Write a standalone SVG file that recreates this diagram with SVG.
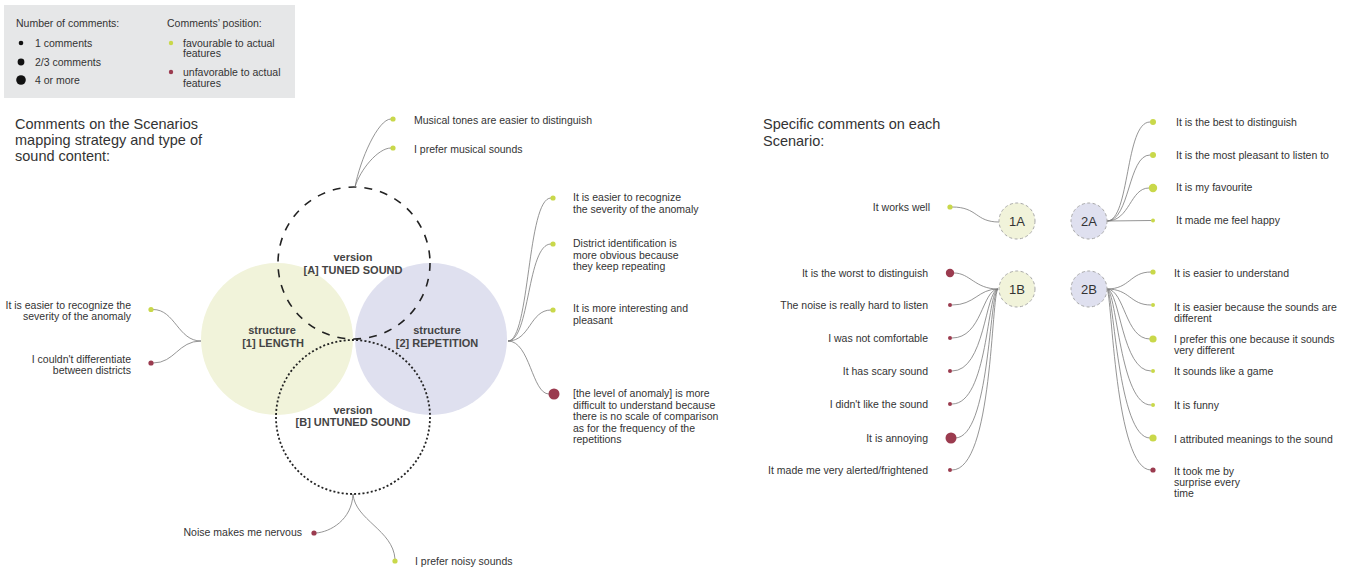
<svg xmlns="http://www.w3.org/2000/svg" width="1349" height="572" viewBox="0 0 1349 572">
<style>
.t{font-family:"Liberation Sans",Arial,sans-serif;font-size:10.5px;fill:#333}
.r{text-anchor:end}
.h{font-family:"Liberation Sans",Arial,sans-serif;font-size:14.5px;fill:#333}
.v{font-family:"Liberation Sans",Arial,sans-serif;font-size:11px;font-weight:bold;fill:#444;text-anchor:middle}
.n{font-family:"Liberation Sans",Arial,sans-serif;font-size:13px;fill:#333;text-anchor:middle}
.g{fill:#c9d84a}
.d{fill:#9b3b4f}
.c path{fill:none;stroke:#7a7a7a;stroke-width:0.8}
.sc{stroke:#a8a8a8;stroke-width:1;stroke-dasharray:3 2.5}
</style>
<rect width="1349" height="572" fill="#fff"/>
<g id="legend">
<rect x="4" y="5" width="291" height="93" fill="#e6e7e8"/>
<text class="t" x="16" y="27">Number of comments:</text>
<circle cx="21" cy="43" r="2.3" fill="#111"/><text class="t" x="35" y="47">1 comments</text>
<circle cx="21" cy="62" r="3.4" fill="#111"/><text class="t" x="35" y="65.5">2/3 comments</text>
<circle cx="21" cy="80" r="4.8" fill="#111"/><text class="t" x="35" y="83.5">4 or more</text>
<text class="t" x="167" y="27">Comments’ position:</text>
<circle class="g" cx="171" cy="43" r="2.2"/><text class="t" x="183" y="46.5">favourable to actual</text><text class="t" x="183" y="57">features</text>
<circle class="d" cx="171" cy="72" r="2.2"/><text class="t" x="183" y="75.5">unfavorable to actual</text><text class="t" x="183" y="86.5">features</text>
</g>
<g id="title-left"><text class="h" x="15" y="129">Comments on the Scenarios</text><text class="h" x="15" y="145">mapping strategy and type of</text><text class="h" x="15" y="161">sound content:</text></g>
<g id="title-right"><text class="h" x="763" y="129">Specific comments on each</text><text class="h" x="763" y="146">Scenario:</text></g>
<g id="structure-1"><circle cx="277" cy="339" r="76" fill="#f1f3da"/><text class="v" x="272" y="334">structure</text><text class="v" x="273" y="347">[1] LENGTH</text></g>
<g id="structure-2"><circle cx="431" cy="339" r="76" fill="#dfe0ef"/><text class="v" x="437" y="334">structure</text><text class="v" x="437" y="347">[2] REPETITION</text></g>
<g id="version-A"><circle cx="354" cy="263" r="76" fill="none" stroke="#222" stroke-width="1.6" stroke-dasharray="8 8"/><text class="v" x="353" y="261">version</text><text class="v" x="353" y="274">[A] TUNED SOUND</text></g>
<g id="version-B"><circle cx="353" cy="417" r="77" fill="none" stroke="#222" stroke-width="1.8" stroke-dasharray="2 2.2"/><text class="v" x="353" y="414">version</text><text class="v" x="353" y="426">[B] UNTUNED SOUND</text></g>
<g id="connectors" class="c">
<path d="M355,187 C360,160 378,119 391,119"/>
<path d="M355,187 C360,170 378,148 391,148"/>
<path d="M508,341 C530,341 527,198 551,198"/>
<path d="M508,341 C530,341 527,244 551,244"/>
<path d="M508,341 C530,341 530,310 551,310"/>
<path d="M508,341 C530,341 532,394 549,394"/>
<path d="M201,341 C178,341 175,309.5 153,309.5"/>
<path d="M201,341 C178,341 175,363 153,363"/>
<path d="M353,494 C352,520 330,532 316,533"/>
<path d="M353,494 C355,520 393,530 395,559"/>
<path d="M952,207 C978,207 975,222 999,222"/>
<path d="M1107,221 C1130,221 1125,122 1150,122"/>
<path d="M1107,221 C1130,221 1128,155 1150,155"/>
<path d="M1107,221 C1130,221 1130,188 1149,188"/>
<path d="M1107,221 L1151,220.5"/>
<path d="M998,289 C975,289 970,273 954,273"/>
<path d="M998,289 C978,289 975,305 952,305"/>
<path d="M998,289 C982,290 982,338 952,338"/>
<path d="M998,289 C985,291 985,371 952,371"/>
<path d="M998,289 C987,292 988,404 952,404"/>
<path d="M998,289 C989,293 990,438 955,438"/>
<path d="M998,289 C991,294 993,470 952,470"/>
<path d="M1107,289 C1130,289 1130,272 1151,272"/>
<path d="M1107,289 C1130,289 1130,305 1151,305"/>
<path d="M1107,289 C1125,290 1125,339 1150,339"/>
<path d="M1107,289 C1120,291 1122,371 1151,371"/>
<path d="M1107,289 C1117,292 1120,405 1151,405"/>
<path d="M1107,289 C1114,293 1118,438 1150,438"/>
<path d="M1107,289 C1112,294 1115,470 1151,470"/>
</g>
<g id="c-musical-tones"><circle class="g" cx="393" cy="119" r="2.6"/><text class="t" x="414" y="124">Musical tones are easier to distinguish</text></g>
<g id="c-prefer-musical"><circle class="g" cx="393" cy="148" r="2.6"/><text class="t" x="414" y="153">I prefer musical sounds</text></g>
<g id="c-severity-rep"><circle class="g" cx="553" cy="198" r="2.6"/><text class="t" x="573" y="201">It is easier to recognize</text><text class="t" x="573" y="212.5">the severity of the anomaly</text></g>
<g id="c-district"><circle class="g" cx="553" cy="244" r="2.6"/><text class="t" x="573" y="247">District identification is</text><text class="t" x="573" y="258.5">more obvious because</text><text class="t" x="573" y="270">they keep repeating</text></g>
<g id="c-interesting"><circle class="g" cx="553" cy="310" r="2.6"/><text class="t" x="573" y="312">It is more interesting and</text><text class="t" x="573" y="323.5">pleasant</text></g>
<g id="c-level"><circle class="d" cx="554" cy="394" r="5.5"/><text class="t" x="573" y="397">[the level of anomaly] is more</text><text class="t" x="573" y="408.5">difficult to understand because</text><text class="t" x="573" y="420">there is no scale of comparison</text><text class="t" x="573" y="431.5">as for the frequency of the</text><text class="t" x="573" y="443">repetitions</text></g>
<g id="c-severity-len"><circle class="g" cx="151" cy="309.5" r="2.6"/><text class="t r" x="131" y="309">It is easier to recognize the</text><text class="t r" x="131" y="320">severity of the anomaly</text></g>
<g id="c-districts"><circle class="d" cx="151" cy="363" r="2.6"/><text class="t r" x="131" y="362.5">I couldn't differentiate</text><text class="t r" x="131" y="374">between districts</text></g>
<g id="c-noise"><circle class="d" cx="314" cy="533" r="2.6"/><text class="t r" x="302" y="536">Noise makes me nervous</text></g>
<g id="c-noisy"><circle class="g" cx="395" cy="561" r="2.6"/><text class="t" x="415" y="565">I prefer noisy sounds</text></g>
<g id="node-1A"><circle class="sc" cx="1017" cy="221" r="18" fill="#f1f3da"/><text class="n" x="1017" y="226">1A</text></g>
<g id="node-2A"><circle class="sc" cx="1089" cy="221" r="18" fill="#dfe0ef"/><text class="n" x="1089" y="226">2A</text></g>
<g id="node-1B"><circle class="sc" cx="1017" cy="289" r="18" fill="#f1f3da"/><text class="n" x="1017" y="294">1B</text></g>
<g id="node-2B"><circle class="sc" cx="1089" cy="289" r="18" fill="#dfe0ef"/><text class="n" x="1089" y="294">2B</text></g>
<g id="c-works-well"><circle class="g" cx="950" cy="207" r="2.6"/><text class="t r" x="930" y="211">It works well</text></g>
<g id="c-best"><circle class="g" cx="1153" cy="122" r="3"/><text class="t" x="1176" y="126">It is the best to distinguish</text></g>
<g id="c-pleasant"><circle class="g" cx="1153" cy="155" r="3"/><text class="t" x="1176" y="158.5">It is the most pleasant to listen to</text></g>
<g id="c-favourite"><circle class="g" cx="1153" cy="188" r="4.2"/><text class="t" x="1176" y="191">It is my favourite</text></g>
<g id="c-happy"><circle class="g" cx="1153" cy="220.5" r="2"/><text class="t" x="1176" y="224">It made me feel happy</text></g>
<g id="c-worst"><circle class="d" cx="950" cy="273" r="4.2"/><text class="t r" x="928" y="276.5">It is the worst to distinguish</text></g>
<g id="c-hard"><circle class="d" cx="950" cy="305" r="2"/><text class="t r" x="928" y="309">The noise is really hard to listen</text></g>
<g id="c-comfortable"><circle class="d" cx="950" cy="338" r="2"/><text class="t r" x="928" y="342">I was not comfortable</text></g>
<g id="c-scary"><circle class="d" cx="950" cy="371" r="2"/><text class="t r" x="928" y="375">It has scary sound</text></g>
<g id="c-didnt-like"><circle class="d" cx="950" cy="404" r="2"/><text class="t r" x="928" y="408">I didn't like the sound</text></g>
<g id="c-annoying"><circle class="d" cx="951" cy="438" r="5.5"/><text class="t r" x="928" y="442">It is annoying</text></g>
<g id="c-alerted"><circle class="d" cx="950" cy="470" r="2"/><text class="t r" x="928" y="474">It made me very alerted/frightened</text></g>
<g id="c-easier-understand"><circle class="g" cx="1153" cy="272" r="2.6"/><text class="t" x="1174" y="276.5">It is easier to understand</text></g>
<g id="c-sounds-different"><circle class="g" cx="1153" cy="305" r="2"/><text class="t" x="1174" y="311">It is easier because the sounds are</text><text class="t" x="1174" y="322">different</text></g>
<g id="c-prefer-this"><circle class="g" cx="1153" cy="339" r="3.6"/><text class="t" x="1174" y="343">I prefer this one because it sounds</text><text class="t" x="1174" y="354">very different</text></g>
<g id="c-game"><circle class="g" cx="1153" cy="371" r="2"/><text class="t" x="1174" y="375">It sounds like a game</text></g>
<g id="c-funny"><circle class="g" cx="1153" cy="405" r="2"/><text class="t" x="1174" y="409">It is funny</text></g>
<g id="c-meanings"><circle class="g" cx="1153" cy="438" r="3.6"/><text class="t" x="1174" y="442.5">I attributed meanings to the sound</text></g>
<g id="c-surprise"><circle class="d" cx="1153" cy="470" r="2.6"/><text class="t" x="1174" y="475">It took me by</text><text class="t" x="1174" y="486">surprise every</text><text class="t" x="1174" y="497">time</text></g>
</svg>
